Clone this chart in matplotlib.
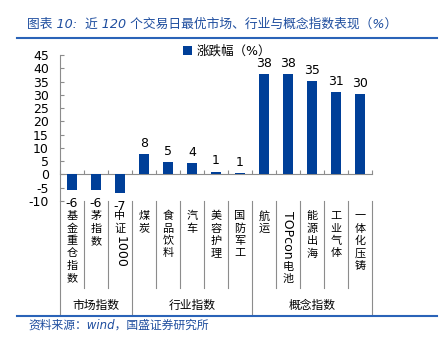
import numpy as np
import matplotlib
matplotlib.use("Agg")
import matplotlib.pyplot as plt
from matplotlib.transforms import blended_transform_factory

plt.rcParams['font.family'] = ['DejaVu Sans', 'Noto Sans CJK SC']
plt.rcParams['axes.unicode_minus'] = False

# data
categories = ['基金重仓指数', '茅指数', '中证1000', '煤炭', '食品饮料', '汽车', '美容护理',
              '国防军工', '航运', 'TOPcon电池', '能源出海', '工业气体', '一体化压铸']
values = [-5.7, -5.9, -6.9, 7.6, 4.8, 4.2, 1.1, 0.6, 37.8, 37.7, 35.2, 31.0, 30.2]
value_labels = ['-6', '-6', '-7', '8', '5', '4', '1', '1', '38', '38', '35', '31', '30']
groups = ['市场指数', '行业指数', '概念指数']
group_sizes = [3, 5, 5]
yticks = list(range(-10, 50, 5))

W, H = 442, 346
bar_color = '#003f98'
blue_text = '#1f4e9f'
line_blue = '#2a63b8'
grey = '#8c8c8c'

fig = plt.figure(figsize=(W / 100, H / 100), dpi=100)
ax = fig.add_axes([60 / W, 1 - 201 / H, 312 / W, 146 / H])

x = np.arange(len(categories))
ax.bar(x, values, width=0.4, color=bar_color, label='涨跌幅（%）', zorder=3)

for xi, v, lab in zip(x, values, value_labels):
    if v >= 0:
        ax.annotate(lab, (xi, v), xytext=(0, 3), textcoords='offset points',
                    ha='center', va='bottom', fontsize=9)
    else:
        ax.annotate(lab, (xi, v), xytext=(0, -5), textcoords='offset points',
                    ha='center', va='top', fontsize=9)

ax.set_xlim(-0.5, len(categories) - 0.5)
ax.set_ylim(-10, 45)
ax.set_yticks(yticks)
ax.tick_params(axis='y', direction='in', length=3, color=grey, labelsize=9, pad=8)
ax.set_xticks(np.arange(len(categories) + 1) - 0.5)
ax.set_xticklabels([])
ax.tick_params(axis='x', direction='in', length=3, color=grey)
ax.spines['bottom'].set_position(('data', 0))
ax.spines['bottom'].set_color(grey)
ax.spines['left'].set_color(grey)
ax.spines['top'].set_visible(False)
ax.spines['right'].set_visible(False)

# category separators and group separators below the axes
trans = blended_transform_factory(ax.transData, fig.transFigure)
y_top = 1 - 201 / H
y_cat = 1 - 288 / H
y_grp = 1 - 315 / H
bounds = np.cumsum([0] + group_sizes) - 0.5
for b in np.arange(len(categories) + 1) - 0.5:
    yb = y_grp if b in bounds else y_cat
    ax.plot([b, b], [y_top, yb], color=grey, lw=0.8, transform=trans, clip_on=False)

for g, lo, hi in zip(groups, bounds[:-1], bounds[1:]):
    ax.text((lo + hi) / 2, 1 - 305 / H, g, transform=trans, ha='center', va='center', fontsize=8.5)

# vertical category labels: CJK upright, latin runs rotated
fig.canvas.draw()
renderer = fig.canvas.get_renderer()
step = 12.4
for xi, name in zip(x, categories):
    ypx = 210.0
    runs = []
    for ch in name:
        if ord(ch) < 128:
            if runs and runs[-1][0] == 'latin':
                runs[-1][1] += ch
            else:
                runs.append(['latin', ch])
        else:
            runs.append(['cjk', ch])
    for kind, s in runs:
        if kind == 'cjk':
            ax.text(xi, 1 - (ypx + step / 2) / H, s, transform=trans, ha='center',
                    va='center', fontsize=8)
            ypx += step
        else:
            t = ax.text(xi, 1 - (ypx + 1) / H, s, transform=trans, ha='center',
                        va='top', rotation=-90, fontsize=9)
            ext = t.get_window_extent(renderer)
            ypx += ext.height + 3

ax.legend(loc='center left', bbox_to_anchor=(183 / W, 1 - 51 / H), bbox_transform=fig.transFigure,
          frameon=False, fontsize=9, handlelength=0.7, handleheight=0.7,
          handletextpad=0.4, borderpad=0, borderaxespad=0)

# title, rules and source
fig.text(27 / W, 1 - 24 / H, '图表 10:  近 120 个交易日最优市场、行业与概念指数表现（%）',
         color=blue_text, fontsize=9.2, style='italic', va='center', ha='left')
fig.add_artist(plt.Line2D([17 / W, 437 / W], [1 - 38 / H, 1 - 38 / H], color=line_blue, lw=1.5))
fig.add_artist(plt.Line2D([17 / W, 437 / W], [1 - 316 / H, 1 - 316 / H], color=line_blue, lw=1.5))
fig.text(28 / W, 1 - 325 / H, '资料来源：wind，国盛证券研究所', color=blue_text, fontsize=8.5,
         style='italic', va='center', ha='left')

fig.savefig('out.png', dpi=100)
